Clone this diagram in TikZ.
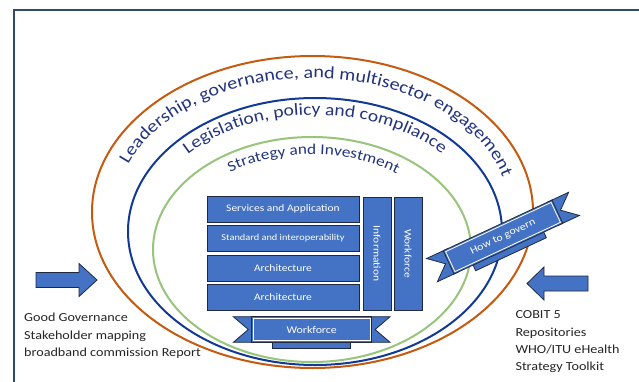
\documentclass[tikz,border=0pt]{standalone}
\usepackage{fontspec}
\setmainfont{Carlito}[FakeStretch=1.15]
\usetikzlibrary{decorations.text}
\definecolor{boxblue}{HTML}{4472C4}
\definecolor{boxedge}{HTML}{1F2A40}
\definecolor{orangeline}{HTML}{C55A11}
\definecolor{blueline}{HTML}{123A94}
\definecolor{greenline}{HTML}{98C47C}
\definecolor{navytext}{HTML}{22347F}
\definecolor{framecol}{HTML}{2F4A6A}
\definecolor{sidecol}{HTML}{262626}
\tikzset{
  ring/.style={line width=2pt},
  blk/.style={draw=boxedge, line width=0.9pt, fill=boxblue, text=white, inner sep=0pt,
    minimum width=152pt, minimum height=26pt, font=\fontsize{10}{12}\selectfont},
  vblk/.style={blk, rotate=-90, minimum width=113pt, minimum height=28pt},
  ribpart/.style={draw=boxedge, line width=0.8pt, fill=boxblue},
  ribtext/.style={text=white, inner sep=0pt, font=\fontsize{10.3}{12}\selectfont, transform shape},
  arrowsty/.style={draw=boxedge, line width=0.8pt, fill=boxblue},
  sidetext/.style={anchor=base west, inner sep=0pt, text=sidecol, font=\fontsize{12.3}{15}\selectfont},
  ribbon/.pic={
    \path[ribpart] (-39,-19) rectangle (39,-9);
    \path[ribpart] (-78.4,12.8) -- (-55,12.8) -- (-55,-12.8) -- (-78.4,-12.8) -- (-63.4,0) -- cycle;
    \path[ribpart] (78.4,12.8) -- (55,12.8) -- (55,-12.8) -- (78.4,-12.8) -- (63.4,0) -- cycle;
    \path[ribpart] (-60,-12.8) rectangle (60,12.8);
    \draw[white, line width=0.8pt] (-58.2,-11) rectangle (58.2,11);
    \node[ribtext] (-txt) at (0,0) {\tikzpictext};
  }
}
\begin{document}
\begin{tikzpicture}[x=1pt,y=1pt]
\useasboundingbox (0,0) rectangle (639,381);
\fill[white] (0,0) rectangle (639,381);
\draw[framecol, line width=2pt] (14,-3) -- (14,371) -- (645,371);

% rings
\coordinate (co) at (312.5,169);
\coordinate (cb) at (315,149.5);
\coordinate (cg) at (312,131.5);
\draw[ring, orangeline] (co) ellipse [x radius=220.5pt, y radius=156pt];
\draw[ring, blueline] (cb) ellipse [x radius=187pt, y radius=133.5pt];
\draw[ring, greenline] (cg) ellipse [x radius=159pt, y radius=112.5pt];

% curved labels
\path[decorate, decoration={text along path, text align=center,
  text={|\fontsize{17.5}{20}\selectfont\color{navytext}|Leadership, governance, and multisector engagement}}]
  ([shift={(178:197pt and 134pt)}]co) arc [start angle=178, end angle=-4, x radius=197pt, y radius=134pt];
\path[decorate, decoration={text along path, text align=center,
  text={|\fontsize{17}{20}\selectfont\color{navytext}|Legislation, policy and compliance}}]
  ([shift={(175:170pt and 116.5pt)}]cb) arc [start angle=175, end angle=5, x radius=170pt, y radius=116.5pt];
\path[decorate, decoration={text along path, text align=center,
  text={|\fontsize{15}{18}\selectfont\color{navytext}|Strategy and Investment}}]
  ([shift={(170:141pt and 95pt)}]cg) arc [start angle=170, end angle=8, x radius=141pt, y radius=95pt];

% stacked blocks
\node[blk] (serv) at (283,172) {Services and Application};
\node[blk, font=\fontsize{9}{11}\selectfont] (stand) at (283,142.8) {Standard and interoperability};
\node[blk] (arch1) at (283,113) {Architecture};
\node[blk] (arch2) at (283,83.5) {Architecture};
\node[vblk] (info) at (377,127.5) {Information};
\node[vblk] (work) at (408,127.5) {Workforce};

% ribbons
\pic[pic text=Workforce] (wf) at (311.7,51.5) {ribbon};
\pic[rotate=25, pic text=How to govern] (gov) at (503,144) {ribbon};

% block arrows
\draw[arrowsty] (36,93.5) -- (79,93.5) -- (79,84.5) -- (97,101) -- (79,117.5) -- (79,108.5) -- (36,108.5) -- cycle;
\draw[arrowsty] (588,90) -- (544,90) -- (544,81) -- (527,97.5) -- (544,114) -- (544,105) -- (588,105) -- cycle;

% side texts
\node[sidetext] (l1) at (24,59.3) {Good Governance};
\node[sidetext] (l2) at (24,42) {Stakeholder mapping};
\node[sidetext] (l3) at (24,24.3) {broadband commission Report};
\node[sidetext] (r1) at (515.3,62.7) {COBIT 5};
\node[sidetext] (r2) at (515.3,45) {Repositories};
\node[sidetext] (r3) at (515.3,27.7) {WHO/ITU eHealth};
\node[sidetext] (r4) at (515.3,11) {Strategy Toolkit};
\end{tikzpicture}
\end{document}
